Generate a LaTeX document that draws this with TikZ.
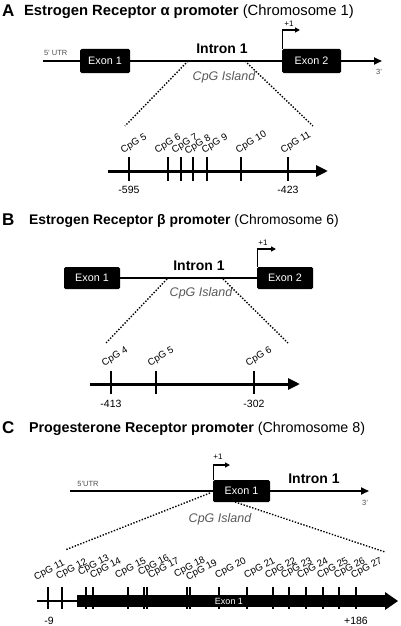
\documentclass[tikz,border=0pt]{standalone}
\usepackage{fontspec}
\setmainfont{Liberation Sans}
\usetikzlibrary{arrows.meta}
\begin{document}
\begin{tikzpicture}[x=1pt,y=-1pt,
  every node/.style={inner sep=0pt, outer sep=0pt},
  panellab/.style={font=\fontsize{17}{17}\selectfont\bfseries, anchor=base west},
  titletxt/.style={font=\fontsize{14.3}{15}\selectfont, anchor=base west},
  exonbox/.style={fill=black, rounded corners=1.5pt, text=white, font=\fontsize{10.8}{11}\selectfont},
  intron/.style={font=\fontsize{14}{15}\selectfont\bfseries},
  island/.style={font=\fontsize{12.5}{13}\selectfont\itshape, text=black!65},
  smalltxt/.style={font=\fontsize{7.5}{8}\selectfont, text=black!70},
  plusone/.style={font=\fontsize{8}{8}\selectfont},
  geneline/.style={line width=1.8pt},
  genearrow/.style={line width=1.8pt, -{Triangle[length=8pt,width=7pt]}},
  tssarrow/.style={line width=1.3pt, -{Triangle[length=5pt,width=5pt]}},
  dotline/.style={line width=1.4pt, dash pattern=on 1.4pt off 1.6pt},
  axisline/.style={line width=3pt, -{Triangle[length=12pt,width=11pt]}},
  tickline/.style={line width=1.8pt},
  cpglab/.style={font=\fontsize{9.7}{10}\selectfont, anchor=base west, rotate=30},
  cpglabc/.style={font=\fontsize{9.7}{10}\selectfont, anchor=base west, rotate=27},
  poslab/.style={font=\fontsize{10.5}{11}\selectfont},
]
\useasboundingbox (0,0) rectangle (400,626);

% ================= Panel A =================
\node[panellab] (a-lab) at (2,17) {A};
\node[titletxt, font=\fontsize{14.8}{15}\selectfont] (a-title) at (24,16) {\textbf{Estrogen Receptor α promoter} (Chromosome 1)};

\coordinate (a-5) at (43,61);
\coordinate (a-3) at (382,61);
\node[exonbox, minimum width=50pt, minimum height=24pt] (a-e1) at (105,61) {Exon 1};
\node[exonbox, minimum width=59pt, minimum height=24pt] (a-e2) at (311.5,61) {Exon 2};
\draw[geneline] (a-5) -- (a-e1) (a-e1) -- (a-e2);
\draw[genearrow] (a-e2) -- (a-3);
\coordinate (a-tss) at (300,30);
\draw[tssarrow] ([xshift=0.7pt]a-e2.north west) |- (a-tss);
\node[plusone] (a-p1) at (289,24) {+1};
\node[smalltxt, anchor=base west] (a-utr) at (44,56) {5' UTR};
\node[smalltxt] (a-3p) at (379,72) {3'};
\node[intron] (a-int) at (222,49) {Intron 1};
\node[island] (a-isl) at (224,77) {CpG Island};

\coordinate (a-il) at (188,61);
\coordinate (a-ir) at (245,61);
\coordinate (a-zl) at (125,126);
\coordinate (a-zr) at (313,126);
\draw[dotline] (a-il) -- (a-zl);
\draw[dotline] (a-ir) -- (a-zr);

\coordinate (a-as) at (108,171);
\coordinate (a-ae) at (328,171);
\draw[axisline] (a-as) -- (a-ae);
\foreach \x/\n/\lx/\ly in {129/5/123/153, 168/6/157/153, 181/7/174/153, 193/8/187/154, 207/9/204/153, 241/10/238/153, 288/11/283/153}{
  \draw[tickline] (\x,157) -- (\x,181);
  \node[cpglab] (a-cpg\n) at (\lx,\ly) {CpG \n};
}
\node[poslab] (a-m595) at (129,190) {-595};
\node[poslab] (a-m423) at (288,190) {-423};

% ================= Panel B =================
\node[panellab] (b-lab) at (2,225) {B};
\node[titletxt, font=\fontsize{13.9}{15}\selectfont] (b-title) at (29,224) {\textbf{Estrogen Receptor β promoter} (Chromosome 6)};

\node[exonbox, minimum width=56pt, minimum height=22pt] (b-e1) at (92,278) {Exon 1};
\node[exonbox, minimum width=56pt, minimum height=22pt] (b-e2) at (285,278) {Exon 2};
\draw[geneline] (b-e1) -- (b-e2);
\coordinate (b-tss) at (276,249);
\draw[tssarrow] ([xshift=0.7pt]b-e2.north west) |- (b-tss);
\node[plusone] (b-p1) at (263,243) {+1};
\node[intron] (b-int) at (199,266) {Intron 1};
\node[island] (b-isl) at (201,293) {CpG Island};

\coordinate (b-il) at (167,279);
\coordinate (b-ir) at (223,279);
\coordinate (b-zl) at (106,343);
\coordinate (b-zr) at (288,343);
\draw[dotline] (b-il) -- (b-zl);
\draw[dotline] (b-ir) -- (b-zr);

\coordinate (b-as) at (90,384);
\coordinate (b-ae) at (300,384);
\draw[axisline] (b-as) -- (b-ae);
\foreach \x/\n/\lx/\ly in {111/4/104/366, 156/5/150/366, 254/6/248/366}{
  \draw[tickline] (\x,371) -- (\x,394);
  \node[cpglab] (b-cpg\n) at (\lx,\ly) {CpG \n};
}
\node[poslab] (b-m413) at (111,404) {-413};
\node[poslab] (b-m302) at (254,404) {-302};

% ================= Panel C =================
\node[panellab] (c-lab) at (2,433) {C};
\node[titletxt] (c-title) at (29,432) {\textbf{Progesterone Receptor promoter} (Chromosome 8)};

\coordinate (c-5) at (70,491);
\coordinate (c-3) at (369,491);
\node[exonbox, minimum width=57pt, minimum height=22pt] (c-e1) at (241.5,491) {Exon 1};
\draw[geneline] (c-5) -- (c-e1);
\draw[genearrow] (c-e1) -- (c-3);
\coordinate (c-tss) at (230,465);
\draw[tssarrow] ([xshift=0.7pt]c-e1.north west) |- (c-tss);
\node[plusone] (c-p1) at (218,457) {+1};
\node[smalltxt] (c-utr) at (88,484) {5'UTR};
\node[smalltxt] (c-3p) at (365,503) {3'};
\node[intron] (c-int) at (314,479) {Intron 1};
\node[island] (c-isl) at (220,519) {CpG Island};

\coordinate (c-il) at (210,493);
\coordinate (c-ir) at (235,502);
\coordinate (c-zl) at (65,550);
\coordinate (c-zr) at (385,552);
\draw[dotline] (c-il) -- (c-zl);
\draw[dotline] (c-ir) -- (c-zr);

\coordinate (c-as) at (37,601);
\node[fill=black, minimum width=309pt, minimum height=12pt] (c-bar) at (231.5,601) {};
\draw[line width=2pt] (c-as) -- (c-bar.west);
\fill (c-bar.east) ++(-1,-9) -- ++(13,9) -- ++(-13,9) -- cycle;
\foreach \x/\n/\lx/\ly in {48/11/36/580, 62/12/58/579, 86/13/80/575, 93/14/92/578, 128/15/117/578, 144/16/140/575, 147/17/150/578, 187/18/176/577, 190/19/188/580, 219/20/217/578, 247/21/246/578, 273/22/267/578, 289/23/283/578, 306/24/299/578, 323/25/319/578, 339/26/336/578, 356/27/353/578}{
  \draw[white, line width=2.6pt] (\x,595) -- (\x,607);
  \draw[tickline, line width=1.6pt] (\x,587) -- (\x,609);
  \node[cpglabc] (c-cpg\n) at (\lx,\ly) {CpG \n};
}
\node[font=\fontsize{9}{10}\selectfont, text=white] (c-bartxt) at (229,601) {Exon 1};
\node[poslab] (c-m9) at (49,621) {-9};
\node[poslab] (c-p186) at (356,621) {+186};
\end{tikzpicture}
\end{document}
